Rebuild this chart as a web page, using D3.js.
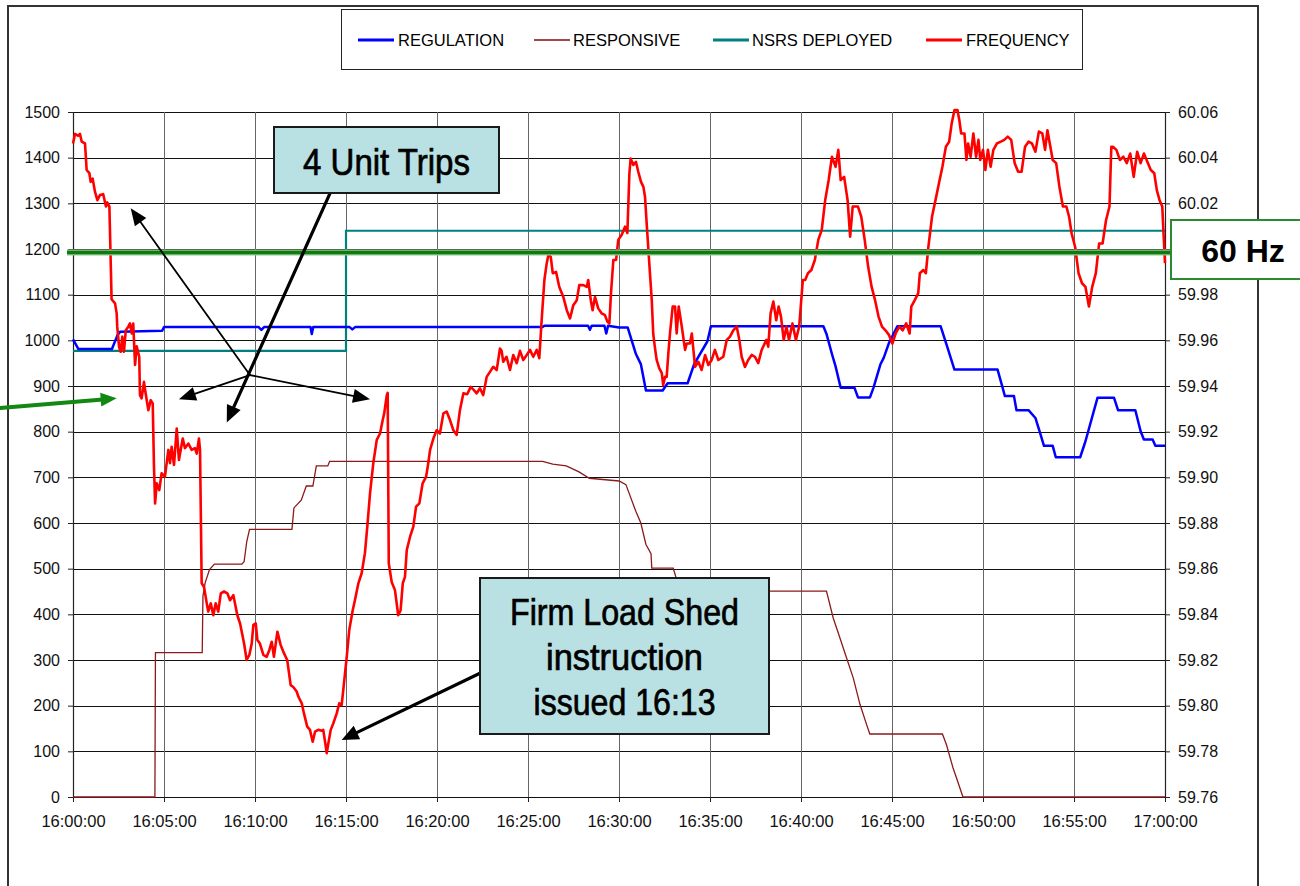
<!DOCTYPE html>
<html>
<head>
<meta charset="utf-8">
<script src="https://cdn.jsdelivr.net/npm/d3@7"></script>
<style>
  html, body { margin: 0; padding: 0; background: #fff; }
  svg { display: block; }
  text { font-family: "Liberation Sans", Arial, Helvetica, sans-serif; }
</style>
</head>
<body>
<svg id="chart" width="1300" height="886"></svg>
<script>
// ---------------- DATA (minutes after 16:00, value) ----------------
const regulation = [
  [0,1002],[0.3,981],[2.14,981],[2.45,1012],[2.6,1019],[4.9,1021],[5.0,1029],
  [10.2,1029],[10.35,1023],[10.5,1029],[13.05,1029],[13.12,1014],[13.2,1029],
  [15.2,1029],[15.35,1024],[15.5,1029],[25.8,1029],[25.9,1032],[28.3,1032],
  [28.4,1023],[28.5,1032],[29.2,1032],[29.3,1015],[29.4,1032],[30.0,1028],
  [30.48,1028],[30.93,970],[31.2,948],[31.48,890],[32.4,890],[32.67,906],
  [33.77,906],[34.13,948],[34.86,998],[35.05,1031],[41.23,1031],[41.4,1014],
  [41.7,970],[41.9,943],[42.18,896],[42.94,896],[43.13,875],[43.79,875],
  [43.98,896],[44.36,947],[44.55,962],[44.83,994],[45.3,1031],[47.67,1031],
  [48.05,984],[48.43,936],[50.8,936],[51.08,896],[51.2,878],[51.7,878],
  [51.84,847],[52.5,847],[52.88,830],[53.16,794],[53.35,769],[53.83,769],
  [54.0,744],[55.34,744],[55.63,779],[56.29,874],[57.2,874],[57.42,847],
  [58.37,847],[58.66,801],[58.84,783],[59.32,783],[59.47,769],[60,769]
];
const responsive = [
  [0,0],[4.5,0],[4.53,316],[7.1,316],[7.14,440],[7.26,469],[7.5,498],[7.77,510],
  [9.28,510],[9.4,515],[9.55,560],[9.7,586],[12.03,586],[12.14,633],[12.54,650],
  [12.82,681],[13.18,681],[13.37,725],[14.0,725],[14.1,735],[25.8,735],
  [26.36,729],[27.1,725],[27.8,712],[28.37,698],[30.0,692],[30.38,684],
  [30.93,625],[31.2,600],[31.48,553],[31.76,533],[31.8,501],[32.98,501],
  [33.16,477],[33.3,451],[41.4,451],[41.77,392],[42.14,348],[42.5,305],
  [42.87,261],[43.24,203],[43.6,159],[43.78,138],[47.77,138],[47.99,115],
  [48.35,64],[48.54,42],[48.9,0],[60,0]
];
const nsrsDeployed = [[0,977],[15,977],[15,1240],[60,1240]];
const frequency = [
  [0.00,60.0462],[0.11,60.0504],[0.27,60.0496],[0.38,60.0504],[0.48,60.0470],
  [0.66,60.0462],[0.75,60.0346],[0.90,60.0332],[0.97,60.0294],[1.08,60.0308],
  [1.21,60.0250],[1.34,60.0214],[1.48,60.0236],[1.66,60.0240],[1.81,60.0186],
  [1.88,60.0204],[2.00,60.0186],[2.12,59.9780],[2.31,59.9762],[2.40,59.9718],
  [2.43,59.9660],[2.53,59.9572],[2.62,59.9550],[2.71,59.9616],[2.80,59.9550],
  [2.90,59.9644],[3.04,59.9660],[3.13,59.9674],[3.23,59.9630],[3.31,59.9674],
  [3.41,59.9492],[3.50,59.9574],[3.64,59.9528],[3.68,59.9360],[3.77,59.9346],
  [3.90,59.9418],[3.99,59.9368],[4.14,59.9294],[4.27,59.9338],[4.38,59.9324],
  [4.45,59.9046],[4.51,59.8886],[4.60,59.8974],[4.74,59.8944],[4.87,59.9018],
  [5.05,59.9002],[5.24,59.9120],[5.33,59.9062],[5.42,59.9134],[5.55,59.9054],
  [5.70,59.9214],[5.82,59.9076],[6.03,59.9170],[6.15,59.9128],[6.34,59.9148],
  [6.52,59.9120],[6.70,59.9128],[6.80,59.9104],[6.92,59.9170],[6.98,59.9120],
  [7.07,59.8536],[7.20,59.8520],[7.35,59.8448],[7.43,59.8412],[7.57,59.8448],
  [7.71,59.8396],[7.84,59.8448],[7.98,59.8412],[8.12,59.8492],[8.30,59.8500],
  [8.48,59.8492],[8.63,59.8462],[8.81,59.8484],[9.03,59.8396],[9.18,59.8360],
  [9.40,59.8272],[9.54,59.8200],[9.69,59.8222],[9.82,59.8272],[9.91,59.8354],
  [10.04,59.8360],[10.13,59.8288],[10.27,59.8272],[10.46,59.8222],[10.64,59.8214],
  [10.79,59.8244],[10.92,59.8280],[11.04,59.8214],[11.23,59.8324],[11.41,59.8266],
  [11.59,59.8230],[11.77,59.8200],[11.96,59.8090],[12.10,59.8082],[12.29,59.8062],
  [12.38,59.8040],[12.57,59.8010],[12.69,59.7966],[12.87,59.7908],[13.02,59.7894],
  [13.17,59.7842],[13.30,59.7886],[13.48,59.7894],[13.66,59.7890],[13.75,59.7894],
  [13.85,59.7842],[13.94,59.7792],[14.03,59.7834],[14.16,59.7894],[14.30,59.7922],
  [14.49,59.7966],[14.63,59.8010],[14.76,59.8002],[14.85,59.8068],[15.04,59.8214],
  [15.18,59.8332],[15.37,59.8418],[15.49,59.8462],[15.68,59.8536],[15.86,59.8580],
  [16.04,59.8668],[16.17,59.8784],[16.32,59.8930],[16.50,59.9062],[16.69,59.9164],
  [16.87,59.9192],[17.02,59.9252],[17.10,59.9280],[17.24,59.9360],[17.29,59.9370],
  [17.35,59.8624],[17.51,59.8542],[17.69,59.8506],[17.87,59.8396],[18.00,59.8418],
  [18.12,59.8536],[18.24,59.8564],[18.34,59.8682],[18.52,59.8740],[18.70,59.8784],
  [18.85,59.8872],[19.03,59.8886],[19.21,59.8974],[19.40,59.9002],[19.52,59.9062],
  [19.62,59.9120],[19.80,59.9170],[19.98,59.9206],[20.16,59.9192],[20.35,59.9280],
  [20.53,59.9288],[20.71,59.9252],[20.90,59.9206],[21.08,59.9186],[21.26,59.9294],
  [21.45,59.9368],[21.66,59.9364],[21.85,59.9396],[22.03,59.9382],[22.18,59.9368],
  [22.36,59.9390],[22.54,59.9360],[22.73,59.9440],[22.91,59.9462],[23.09,59.9484],
  [23.28,59.9470],[23.46,59.9564],[23.55,59.9554],[23.64,59.9506],[23.82,59.9528],
  [24.01,59.9470],[24.19,59.9536],[24.38,59.9500],[24.56,59.9554],[24.74,59.9514],
  [24.93,59.9536],[25.11,59.9558],[25.29,59.9528],[25.48,59.9558],[25.62,59.9522],
  [25.75,59.9688],[25.90,59.9864],[26.03,59.9938],[26.12,59.9974],[26.25,59.9966],
  [26.36,59.9894],[26.54,59.9900],[26.72,59.9834],[26.94,59.9790],[27.13,59.9732],
  [27.31,59.9696],[27.49,59.9754],[27.68,59.9776],[27.82,59.9842],[28.04,59.9842],
  [28.23,59.9834],[28.31,59.9864],[28.45,59.9776],[28.55,59.9732],[28.68,59.9790],
  [28.86,59.9740],[29.05,59.9718],[29.23,59.9710],[29.36,59.9682],[29.47,59.9674],
  [29.56,59.9806],[29.69,59.9952],[29.84,59.9952],[29.96,60.0040],[30.15,60.0062],
  [30.33,60.0098],[30.46,60.0070],[30.57,60.0330],[30.64,60.0396],[30.79,60.0368],
  [30.93,60.0382],[31.06,60.0338],[31.21,60.0294],[31.34,60.0272],[31.43,60.0228],
  [31.52,60.0112],[31.70,59.9894],[31.80,59.9776],[31.88,59.9630],[31.98,59.9564],
  [32.07,59.9514],[32.21,59.9478],[32.35,59.9456],[32.43,59.9404],[32.53,59.9440],
  [32.62,59.9440],[32.71,59.9542],[32.80,59.9630],[32.95,59.9748],[33.08,59.9748],
  [33.17,59.9630],[33.28,59.9748],[33.45,59.9660],[33.63,59.9558],[33.72,59.9586],
  [33.90,59.9586],[34.00,59.9630],[34.18,59.9484],[34.36,59.9506],[34.54,59.9470],
  [34.73,59.9536],[34.91,59.9492],[35.09,59.9514],[35.27,59.9558],[35.46,59.9514],
  [35.73,59.9528],[35.92,59.9602],[36.10,59.9616],[36.28,59.9644],[36.47,59.9660],
  [36.61,59.9602],[36.74,59.9528],[36.92,59.9484],[37.10,59.9514],[37.29,59.9536],
  [37.47,59.9528],[37.65,59.9500],[37.84,59.9558],[37.92,59.9572],[38.10,59.9602],
  [38.20,59.9572],[38.33,59.9718],[38.48,59.9770],[38.64,59.9688],[38.77,59.9748],
  [38.90,59.9704],[39.05,59.9602],[39.20,59.9660],[39.34,59.9602],[39.53,59.9674],
  [39.72,59.9602],[39.90,59.9660],[40.10,59.9864],[40.23,59.9864],[40.38,59.9894],
  [40.57,59.9908],[40.76,59.9952],[40.95,60.0040],[41.14,60.0084],[41.33,60.0214],
  [41.52,60.0302],[41.70,60.0404],[41.90,60.0360],[42.05,60.0434],[42.18,60.0302],
  [42.37,60.0316],[42.56,60.0214],[42.70,60.0054],[42.84,60.0186],[43.13,60.0186],
  [43.31,60.0142],[43.50,60.0040],[43.69,59.9922],[43.88,59.9834],[44.07,59.9776],
  [44.26,59.9704],[44.45,59.9660],[44.64,59.9644],[44.83,59.9624],[45.02,59.9586],
  [45.20,59.9630],[45.40,59.9660],[45.59,59.9644],[45.78,59.9674],[45.97,59.9630],
  [46.06,59.9748],[46.25,59.9776],[46.44,59.9806],[46.53,59.9894],[46.72,59.9908],
  [46.86,59.9894],[47.00,60.0010],[47.20,60.0142],[47.39,60.0214],[47.58,60.0288],
  [47.77,60.0360],[47.96,60.0448],[48.14,60.0470],[48.28,60.0550],[48.43,60.0608],
  [48.60,60.0608],[48.70,60.0564],[48.80,60.0506],[48.98,60.0506],[49.09,60.0390],
  [49.18,60.0462],[49.32,60.0404],[49.47,60.0506],[49.62,60.0404],[49.75,60.0478],
  [49.85,60.0390],[50.00,60.0434],[50.13,60.0346],[50.27,60.0434],[50.42,60.0360],
  [50.57,60.0434],[50.76,60.0462],[50.98,60.0470],[51.17,60.0478],[51.36,60.0492],
  [51.55,60.0478],[51.74,60.0376],[51.93,60.0338],[52.12,60.0338],[52.31,60.0448],
  [52.50,60.0470],[52.69,60.0462],[52.88,60.0426],[53.07,60.0514],[53.26,60.0506],
  [53.41,60.0434],[53.54,60.0520],[53.67,60.0462],[53.83,60.0390],[54.02,60.0376],
  [54.20,60.0272],[54.39,60.0186],[54.58,60.0186],[54.73,60.0142],[54.87,60.0068],
  [55.06,60.0010],[55.25,59.9894],[55.44,59.9850],[55.63,59.9834],[55.82,59.9748],
  [56.00,59.9834],[56.20,59.9894],[56.38,60.0024],[56.57,60.0024],[56.76,60.0126],
  [56.95,60.0186],[57.05,60.0448],[57.14,60.0448],[57.33,60.0434],[57.52,60.0390],
  [57.71,60.0404],[57.90,60.0376],[58.09,60.0418],[58.28,60.0316],[58.47,60.0426],
  [58.66,60.0376],[58.84,60.0418],[59.03,60.0382],[59.22,60.0346],[59.41,60.0332],
  [59.55,60.0258],[59.70,60.0214],[59.85,60.0186],[59.92,60.0068],[60.00,59.9938]
];
const leftTicks = d3.range(0, 1501, 100);
const rightTicks = d3.range(0, 16).map(i => +(59.76 + i * 0.02).toFixed(2));
const hiddenRightLabel = 60.00;   // covered by the "60 Hz" box in the original
const timeTickMinutes = d3.range(0, 61, 5);
const seriesNames = ["REGULATION", "RESPONSIVE", "NSRS DEPLOYED", "FREQUENCY"];
const seriesColors = ["#0000ff", "#8b1a1a", "#008080", "#ff0000"];
const referenceHz = 59.9985;   // drawn "60 Hz" line
const referenceLabel = "60 Hz";

// annotations in data coordinates (minutes, MW)
const tripsHub = [9.72, 924];
const tripsTargets = [[3.17, 1289], [5.82, 871], [16.32, 871]];
const tripsThick = [[14.12, 1322], [8.45, 820]];
const shedArrow = [[22.36, 271], [14.76, 125]];
const greenArrow = [[-4.01, 852], [2.40, 873]];

// ---------------- CHART ----------------
const BASE = new Date(2008, 1, 26, 16, 0, 0);
const toDate = m => new Date(BASE.getTime() + m * 60000);

const svg = d3.select("#chart");
const X0 = 73, X1 = 1165, Y0 = 797, Y1 = 112;

const x = d3.scaleTime().domain([toDate(0), toDate(60)]).range([X0, X1]);
const yL = d3.scaleLinear().domain([0, 1500]).range([Y0, Y1]);
const yR = d3.scaleLinear().domain([59.76, 60.06]).range([Y0, Y1]);

// outer frame
svg.append("rect").attr("x", 8).attr("y", 6).attr("width", 1250).attr("height", 920)
  .attr("fill", "#fff").attr("stroke", "#333").attr("stroke-width", 2);

// gridlines
const grid = svg.append("g");
grid.selectAll("line.h").data(leftTicks).enter().append("line")
  .attr("x1", X0).attr("x2", X1)
  .attr("y1", d => Math.round(yL(d)) + 0.5).attr("y2", d => Math.round(yL(d)) + 0.5)
  .attr("stroke", "#111").attr("stroke-width", 1);
grid.selectAll("line.v").data(timeTickMinutes).enter().append("line")
  .attr("x1", d => Math.round(x(toDate(d))) + 0.5).attr("x2", d => Math.round(x(toDate(d))) + 0.5)
  .attr("y1", Y1).attr("y2", Y0)
  .attr("stroke", "#666").attr("stroke-width", 1);

// axes
const fmtTime = d3.timeFormat("%H:%M:%S");
const fmtHz = d3.format(".2f");
const axL = svg.append("g").attr("transform", `translate(${X0},0)`)
  .call(d3.axisLeft(yL).tickValues(leftTicks).tickSize(5).tickPadding(8).tickFormat(d3.format("d")));
const axR = svg.append("g").attr("transform", `translate(${X1},0)`)
  .call(d3.axisRight(yR).tickValues(rightTicks).tickSize(5).tickPadding(8)
    .tickFormat(d => Math.abs(d - hiddenRightLabel) < 1e-9 ? "" : fmtHz(d)));
const axB = svg.append("g").attr("transform", `translate(0,${Y0})`)
  .call(d3.axisBottom(x).tickValues(timeTickMinutes.map(toDate)).tickSize(5).tickPadding(13).tickFormat(fmtTime));
[axL, axR].forEach(a => a.selectAll("text").attr("font-size", 16).attr("fill", "#111")
  .attr("font-family", '"Liberation Sans", Arial, sans-serif'));
axB.selectAll("text").attr("font-size", 16.5).attr("fill", "#111")
  .attr("font-family", '"Liberation Sans", Arial, sans-serif');
[axL, axR, axB].forEach(a => {
  a.selectAll(".domain").attr("stroke", "#222").attr("stroke-width", 1.2);
  a.selectAll(".tick line").attr("stroke", "#222");
});
axB.select(".domain").remove();

// series
const lineL = d3.line().x(d => x(toDate(d[0]))).y(d => yL(d[1]));
const lineR = d3.line().x(d => x(toDate(d[0]))).y(d => yR(d[1]));
const plot = svg.append("g");
plot.append("path").datum(nsrsDeployed).attr("d", lineL)
  .attr("fill", "none").attr("stroke", seriesColors[2]).attr("stroke-width", 2.2);
plot.append("path").datum(responsive).attr("d", lineL)
  .attr("fill", "none").attr("stroke", seriesColors[1]).attr("stroke-width", 1.3);
plot.append("path").datum(regulation).attr("d", lineL)
  .attr("fill", "none").attr("stroke", seriesColors[0]).attr("stroke-width", 2.5)
  .attr("stroke-linejoin", "round");
plot.append("path").datum(frequency).attr("d", lineR)
  .attr("fill", "none").attr("stroke", seriesColors[3]).attr("stroke-width", 2.6)
  .attr("stroke-linejoin", "round");

// 60 Hz reference line
const yRef = yR(referenceHz);
svg.append("line").attr("x1", X0 - 6).attr("x2", 1171).attr("y1", yRef).attr("y2", yRef)
  .attr("stroke", "#8cc98c").attr("stroke-width", 6);
svg.append("line").attr("x1", X0 - 6).attr("x2", 1171).attr("y1", yRef).attr("y2", yRef)
  .attr("stroke", "#127812").attr("stroke-width", 3.6);
svg.append("rect").attr("x", 1171).attr("y", 220).attr("width", 150).attr("height", 59)
  .attr("fill", "#fff").attr("stroke", "#2b8a2b").attr("stroke-width", 2);
svg.append("text").attr("x", 1243).attr("y", 262).attr("text-anchor", "middle")
  .attr("font-size", 32).attr("font-weight", "bold").attr("fill", "#000").text(referenceLabel);

// arrows
const P = d => [x(toDate(d[0])), yL(d[1])];
function arrow(from, to, width, color, headLen, headHalf) {
  const [x1, y1] = P(from), [x2, y2] = P(to);
  const dx = x2 - x1, dy = y2 - y1, len = Math.hypot(dx, dy);
  const ux = dx / len, uy = dy / len;
  const bx = x2 - ux * headLen, by = y2 - uy * headLen;
  svg.append("line").attr("x1", x1).attr("y1", y1).attr("x2", bx + ux * 2).attr("y2", by + uy * 2)
    .attr("stroke", color).attr("stroke-width", width).attr("stroke-linecap", "round");
  svg.append("path")
    .attr("d", `M${x2},${y2}L${bx - uy * headHalf},${by + ux * headHalf}L${bx + uy * headHalf},${by - ux * headHalf}Z`)
    .attr("fill", color);
}
tripsTargets.forEach(t => arrow(tripsHub, t, 1.8, "#000", 17, 7));
arrow(tripsThick[0], tripsThick[1], 3.2, "#000", 17, 7.5);
arrow(shedArrow[0], shedArrow[1], 3.2, "#000", 17, 7.5);
arrow(greenArrow[0], greenArrow[1], 4, "#118811", 16, 7);

// annotation boxes
function noteBox(bx, by, bw, bh, lines) {
  svg.append("rect").attr("x", bx).attr("y", by).attr("width", bw).attr("height", bh)
    .attr("fill", "#b9e0e3").attr("stroke", "#1a1a1a").attr("stroke-width", 2);
  lines.forEach(l => {
    svg.append("text").attr("x", bx + bw / 2).attr("y", l.y).attr("text-anchor", "middle")
      .attr("font-size", 37).attr("fill", "#000").attr("stroke", "#000").attr("stroke-width", 0.7)
      .attr("textLength", l.w).attr("lengthAdjust", "spacingAndGlyphs")
      .text(l.t);
  });
}
noteBox(274, 127, 225, 66, [{ t: "4 Unit Trips", y: 175, w: 167 }]);
noteBox(480, 578, 289, 156, [
  { t: "Firm Load Shed", y: 625, w: 229 },
  { t: "instruction", y: 670, w: 157 },
  { t: "issued 16:13", y: 715, w: 182 }
]);

// legend
const lg = svg.append("g");
lg.append("rect").attr("x", 341.5).attr("y", 9.5).attr("width", 741).attr("height", 60)
  .attr("fill", "#fff").attr("stroke", "#222").attr("stroke-width", 1);
const legendItems = [
  { lx: 358, tx: 398 }, { lx: 534, tx: 573 }, { lx: 713, tx: 752 }, { lx: 926, tx: 966 }
];
legendItems.forEach((it, i) => {
  lg.append("line").attr("x1", it.lx).attr("x2", it.lx + 36).attr("y1", 40).attr("y2", 40)
    .attr("stroke", seriesColors[i]).attr("stroke-width", i === 1 ? 2 : 3)
    .attr("stroke-opacity", i === 1 ? 0.8 : 1);
  lg.append("text").attr("x", it.tx).attr("y", 45.5).attr("font-size", 16.5)
    .attr("fill", "#000").text(seriesNames[i]);
});
</script>
</body>
</html>
